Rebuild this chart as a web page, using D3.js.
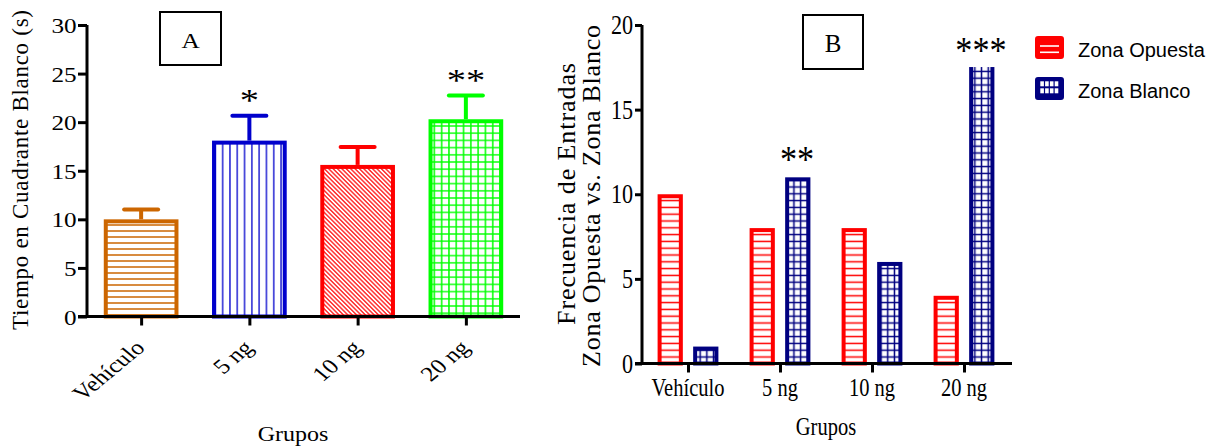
<!DOCTYPE html>
<html>
<head>
<meta charset="utf-8">
<script src="https://cdn.jsdelivr.net/npm/d3@7/dist/d3.min.js"></script>
<style>
  html, body { margin: 0; padding: 0; background: #fff; }
  svg { display: block; }
  .serif { font-family: "Liberation Serif", "Times New Roman", serif; fill: #000; }
  .sans { font-family: "Liberation Sans", Arial, sans-serif; fill: #000; }
</style>
</head>
<body>
<svg id="fig" width="1208" height="448"></svg>
<script>
// ---- Panel A: time in target quadrant (mean ± SEM) ----
const groupsA = ["Vehículo", "5 ng", "10 ng", "20 ng"];
const meanA = [10.0, 18.1, 15.6, 20.3];
const semA = [1.0, 2.55, 1.85, 2.45];
const sigA = ["", "*", "", "**"];
const ticksA = [0, 5, 10, 15, 20, 25, 30];
const colorsA = ["#CC6600", "#0000CC", "#FF0000", "#00FF00"];
const patternsA = ["hOrange", "vBlue", "dRed", "gGreen"];

// ---- Panel B: entries into opposite vs. target zone ----
const groupsB = ["Vehículo", "5 ng", "10 ng", "20 ng"];
const zones = ["Zona Opuesta", "Zona Blanco"];
const opuestaB = [10, 8, 8, 4];
const blancoB = [1, 11, 6, 17.8];
const sigB = ["", "**", "", "***"];
const ticksB = [0, 5, 10, 15, 20];
const colorsB = ["#FF0000", "#000080"];
const patternsB = ["hRed", "gNavy"];

const svg = d3.select("#fig");
const defs = svg.append("defs");

// hatch fills
function hatch(id, w, h, d, color, sw, rot) {
  const p = defs.append("pattern")
    .attr("id", id).attr("patternUnits", "userSpaceOnUse")
    .attr("width", w).attr("height", h);
  if (rot) p.attr("patternTransform", `rotate(${rot})`);
  p.append("rect").attr("width", w).attr("height", h).attr("fill", "#fff");
  p.append("path").attr("d", d).attr("stroke", color).attr("stroke-width", sw).attr("fill", "none");
}
hatch("hOrange", 8, 6, "M0,3H8", colorsA[0], 1.5);
hatch("vBlue", 7.3, 8, "M3.65,0V8", colorsA[1], 1.3);
hatch("dRed", 3.1, 8, "M1.55,0V8", colorsA[2], 1.2, -45);
hatch("gGreen", 7.3, 7.2, "M3.65,0V7.2M0,3.6H7.3", colorsA[3], 1.5);
hatch("hRed", 8, 6.8, "M0,3.4H8", colorsB[0], 1.5);
hatch("gNavy", 6.7, 6.8, "M3.35,0V6.8M0,3.4H6.7", colorsB[1], 1.5);

const SW = 4; // bar outline width

// place a text with an optional horizontal scale and rotation
function label(g, str, x, y, opts = {}) {
  const sx = opts.sx || 1, rot = opts.rot || 0;
  const t = g.append("text")
    .attr("class", opts.cls || "serif")
    .attr("font-size", opts.size || 20)
    .attr("text-anchor", opts.anchor || "middle")
    .attr("transform", `translate(${x},${y}) scale(${sx},1)` + (rot ? ` rotate(${rot})` : ""))
    .text(str);
  if (opts.len) t.attr("textLength", opts.len).attr("lengthAdjust", "spacing");
  return t;
}

// outlined bar whose outer edge sits on the value
function bar(g, cx, w, y0, yv, fill, color) {
  g.append("rect")
    .attr("x", cx - w / 2 + SW / 2)
    .attr("y", yv + SW / 2)
    .attr("width", w - SW)
    .attr("height", Math.max(0, y0 - yv - SW / 2))
    .attr("fill", `url(#${fill})`)
    .attr("stroke", color)
    .attr("stroke-width", SW);
}

function styleAxis(g) {
  g.select(".domain").remove();
  g.selectAll(".tick line").attr("stroke", "#000").attr("stroke-width", 3);
  g.selectAll(".tick text").remove();
}

// ================= Panel A =================
const A = svg.append("g");
const xA = d3.scalePoint().domain(groupsA).range([87, 520]).padding(0.5);
const yA = d3.scaleLinear().domain([0, 30]).range([316.5, 25]);
const barWA = xA.step() * 0.69;

groupsA.forEach((g, i) => {
  const cx = xA(g);
  bar(A, cx, barWA, yA(0), yA(meanA[i]), patternsA[i], colorsA[i]);
  const top = yA(meanA[i] + semA[i]);
  A.append("line").attr("x1", cx).attr("x2", cx)
    .attr("y1", yA(meanA[i])).attr("y2", top)
    .attr("stroke", colorsA[i]).attr("stroke-width", SW);
  A.append("line").attr("x1", cx - 17).attr("x2", cx + 17)
    .attr("y1", top).attr("y2", top)
    .attr("stroke", colorsA[i]).attr("stroke-width", SW).attr("stroke-linecap", "round");
  if (sigA[i]) label(A, sigA[i], cx, top - 20 + 0.48 * 32, { size: 32, sx: 1.2 });
});

A.append("g").attr("transform", "translate(87,0)")
  .call(d3.axisLeft(yA).tickValues(ticksA).tickSize(9).tickSizeOuter(0)).call(styleAxis);
A.append("g").attr("transform", `translate(0,${yA(0)})`)
  .call(d3.axisBottom(xA).tickSize(9).tickSizeOuter(0)).call(styleAxis);
A.append("line").attr("x1", 87).attr("x2", 87).attr("y1", yA(30)).attr("y2", yA(0) + 1.5)
  .attr("stroke", "#000").attr("stroke-width", 3);
A.append("line").attr("x1", 78).attr("x2", 520).attr("y1", yA(0)).attr("y2", yA(0))
  .attr("stroke", "#000").attr("stroke-width", 3);

ticksA.forEach(t => label(A, t, 76.7, yA(t) + 8, { size: 21, sx: 1.2, anchor: "end" }));
groupsA.forEach(g => label(A, g, xA(g) + 5, 349, { size: 21, sx: 1.2, rot: -45, anchor: "end" }));
label(A, "Grupos", 293, 441, { size: 20, sx: 1.2 });
label(A, "Tiempo en Cuadrante Blanco (s)", 27.5, 170, { size: 23, rot: -90, len: 320 });

A.append("rect").attr("x", 160).attr("y", 12).attr("width", 61).attr("height", 53)
  .attr("fill", "#fff").attr("stroke", "#000").attr("stroke-width", 2);
label(A, "A", 190.5, 48, { size: 22, sx: 1.15 });

// ================= Panel B =================
const B = svg.append("g");
const xB = d3.scalePoint().domain(groupsB).range([642, 1010]).padding(0.5);
const xZ = d3.scaleBand().domain(zones).range([-30.4, 30.4]).paddingInner(0.29);
const yB = d3.scaleLinear().domain([0, 20]).range([363.5, 25]);
const seriesB = [opuestaB, blancoB];

groupsB.forEach((g, i) => {
  zones.forEach((z, j) => {
    const cx = xB(g) + xZ(z) + xZ.bandwidth() / 2;
    bar(B, cx, xZ.bandwidth(), yB(0), yB(seriesB[j][i]), patternsB[j], colorsB[j]);
  });
});

// significance marks sit on a white label box
groupsB.forEach((g, i) => {
  if (!sigB[i]) return;
  const v = Math.max(opuestaB[i], blancoB[i]);
  const cy = Math.max(yB(v) - 24, 45);
  const fs = 38;
  const base = cy + 0.48 * fs;
  const lg = B.append("g");
  const t = label(lg, sigB[i], xB(g) + 17, base, { size: fs, sx: 0.9 });
  const bb = t.node().getBBox();
  const w = bb.width * 0.9;
  lg.insert("rect", "text")
    .attr("x", xB(g) + 17 - w / 2 - 2).attr("y", base + bb.y)
    .attr("width", w + 4).attr("height", -bb.y + 0.1 * fs)
    .attr("fill", "#fff");
});

B.append("g").attr("transform", "translate(642,0)")
  .call(d3.axisLeft(yB).tickValues(ticksB).tickSize(7).tickSizeOuter(0)).call(styleAxis);
B.append("g").attr("transform", `translate(0,${yB(0)})`)
  .call(d3.axisBottom(xB).tickSize(9).tickSizeOuter(0)).call(styleAxis);
B.append("line").attr("x1", 642).attr("x2", 642).attr("y1", yB(20)).attr("y2", yB(0) + 1.5)
  .attr("stroke", "#000").attr("stroke-width", 3);
B.append("line").attr("x1", 635).attr("x2", 1012).attr("y1", yB(0)).attr("y2", yB(0))
  .attr("stroke", "#000").attr("stroke-width", 3);

ticksB.forEach(t => label(B, t, 633, yB(t) + 0.34 * 27, { size: 27, sx: 0.82, anchor: "end" }));
groupsB.forEach(g => label(B, g, xB(g), 396, { size: 25, sx: 0.82 }));
label(B, "Grupos", 826, 435, { size: 25, sx: 0.82 });
label(B, "Frecuencia de Entradas", 575, 194, { size: 26, rot: -90, len: 262 });
label(B, "Zona Opuesta vs. Zona Blanco", 600, 196, { size: 26, rot: -90, len: 342 });

B.append("rect").attr("x", 803).attr("y", 15).attr("width", 60).attr("height", 54)
  .attr("fill", "#fff").attr("stroke", "#000").attr("stroke-width", 2);
label(B, "B", 833, 51.5, { size: 25 });

// legend
const L = svg.append("g");
const legY = [36, 77];
zones.forEach((z, j) => {
  L.append("rect").attr("x", 1036).attr("y", legY[j] + 1).attr("width", 27).attr("height", 21)
    .attr("rx", 2).attr("fill", colorsB[j]).attr("stroke", colorsB[j]).attr("stroke-width", 2);
  if (j === 0) {
    [10, 16.3].forEach(dy => L.append("line")
      .attr("x1", 1040).attr("x2", 1059).attr("y1", legY[j] + dy).attr("y2", legY[j] + dy)
      .attr("stroke", "#fff").attr("stroke-width", 1.6));
  } else {
    for (let c = 0; c < 4; c++) for (let r = 0; r < 2; r++) {
      L.append("rect").attr("x", 1040.3 + c * 4.8).attr("y", legY[j] + 4.3 + r * 7)
        .attr("width", 3.6).attr("height", 5).attr("fill", "#fff");
    }
  }
  label(L, z, 1078, legY[j] + 21.3, { cls: "sans", size: 20, anchor: "start" });
});
</script>
</body>
</html>
